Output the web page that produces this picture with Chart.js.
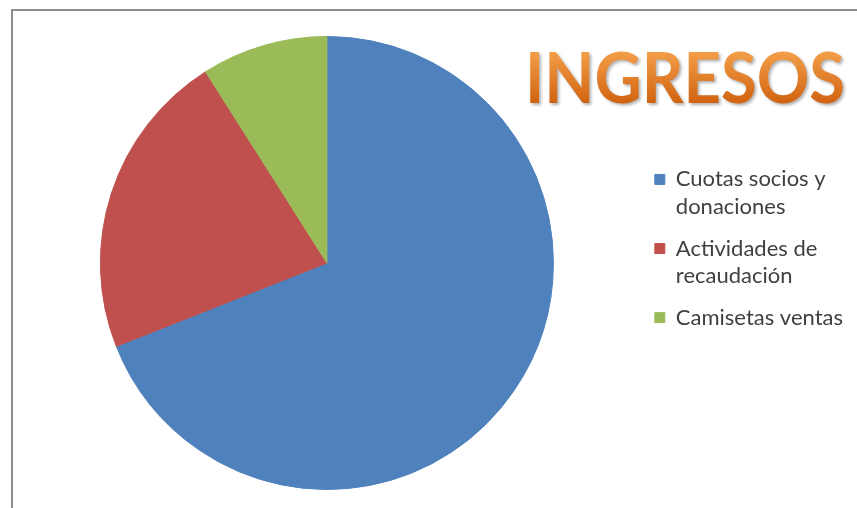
<!DOCTYPE html>
<html lang="es">
<head>
  <meta charset="UTF-8">
  <title>Ingresos</title>
  <script src="https://cdn.jsdelivr.net/npm/chart.js"></script>
  <style>
    html, body { margin: 0; padding: 0; background: #fff; }
    #wrap { position: relative; width: 857px; height: 508px; }
    #frame {
      position: absolute; left: 11px; top: 9px; right: 0; bottom: 0;
      border-top: 2px solid #8c8c8c; border-left: 2px solid #8c8c8c;
      pointer-events: none;
    }
  </style>
</head>
<body>
  <div id="wrap">
    <canvas id="pie" width="857" height="508"></canvas>
    <div id="frame"></div>
  </div>

  <script>
    // datos
    const categorias = [
      ['Cuotas socios y', 'donaciones'],
      ['Actividades de', 'recaudación'],
      ['Camisetas ventas']
    ];
    const valores = [69, 22, 9];
    const colores = ['#4f81bd', '#c0504d', '#9bbb59'];
    const titulo = 'INGRESOS';

    // titulo naranja con degradado y sombra
    const tituloPlugin = {
      id: 'tituloNaranja',
      afterDraw(chart) {
        const ctx = chart.ctx;
        ctx.save();
        ctx.font = 'bold 71px Lato';
        ctx.textBaseline = 'alphabetic';
        const grad = ctx.createLinearGradient(0, 50, 0, 104);
        grad.addColorStop(0, '#f5a04a');
        grad.addColorStop(1, '#d0620f');
        ctx.shadowColor = 'rgba(0,0,0,0.3)';
        ctx.shadowOffsetX = 2;
        ctx.shadowOffsetY = 2;
        ctx.shadowBlur = 3;
        ctx.fillStyle = grad;
        ctx.fillText(titulo, 525, 103, 320);
        ctx.restore();
      }
    };

    new Chart(document.getElementById('pie'), {
      type: 'pie',
      data: {
        labels: categorias,
        datasets: [{
          data: valores,
          backgroundColor: colores,
          borderColor: colores,
          borderWidth: 1
        }]
      },
      options: {
        responsive: false,
        animation: false,
        layout: { padding: { top: 36, bottom: 18, left: 14, right: 4 } },
        plugins: {
          tooltip: { enabled: false },
          legend: {
            position: 'right',
            align: 'start',
            title: { display: true, text: ' ', padding: { top: 103, bottom: 0 } },
            labels: {
              boxWidth: 10,
              boxHeight: 10,
              padding: 15,
              color: '#404040',
              font: { family: 'Lato', size: 22, lineHeight: 1.23 }
            }
          }
        }
      },
      plugins: [tituloPlugin]
    });
  </script>
</body>
</html>
